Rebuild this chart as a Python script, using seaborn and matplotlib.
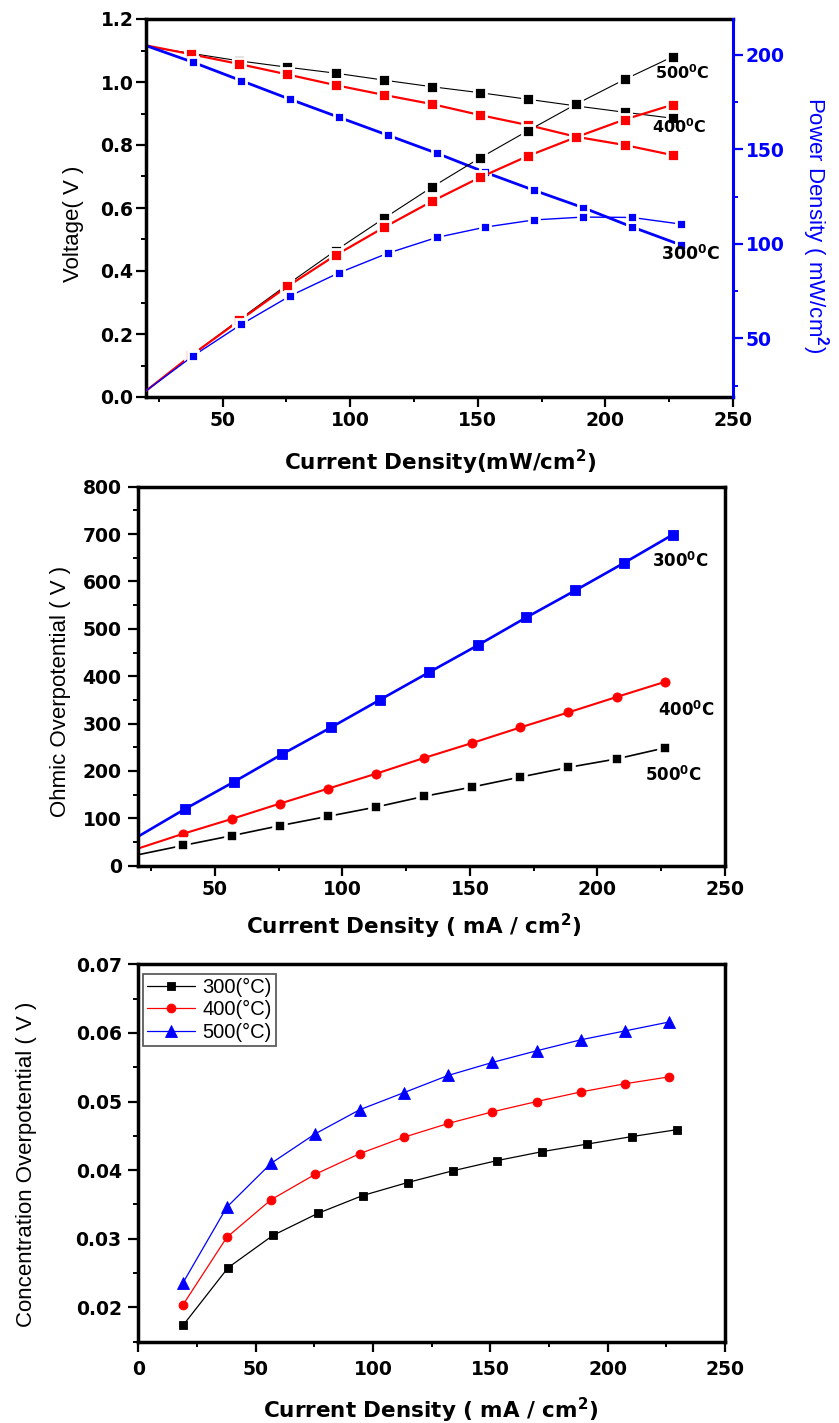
import matplotlib
matplotlib.use("Agg")
import matplotlib.pyplot as plt
from matplotlib.ticker import MultipleLocator, FixedLocator
import seaborn as sns

# Current density (mA/cm^2) at which each temperature was sampled
current_300 = [19.1, 38.3, 57.4, 76.5, 95.6, 114.8, 133.9, 153.0, 172.1, 191.3, 210.4, 229.5]
current_400 = [18.9, 37.7, 56.6, 75.4, 94.3, 113.2, 132.0, 150.9, 169.8, 188.6, 207.5, 226.3]
current_500 = [18.9, 37.7, 56.6, 75.4, 94.3, 113.2, 132.0, 150.9, 169.8, 188.6, 207.5, 226.3]

# Polarization: cell voltage (V)
voltage_300 = [1.118, 1.063, 1.004, 0.945, 0.888, 0.831, 0.774, 0.713, 0.656, 0.601, 0.540, 0.483]
voltage_400 = [1.118, 1.088, 1.057, 1.024, 0.990, 0.959, 0.930, 0.895, 0.863, 0.826, 0.800, 0.768]
voltage_500 = [1.114, 1.091, 1.067, 1.047, 1.028, 1.006, 0.985, 0.966, 0.945, 0.924, 0.904, 0.885]

# Power density (mW/cm^2)
power_300 = [21.4, 40.6, 57.5, 72.5, 84.7, 95.1, 103.4, 108.9, 112.7, 114.2, 114.0, 110.5]
power_400 = [21.1, 41.0, 59.5, 77.5, 94.0, 108.7, 122.5, 135.2, 146.6, 156.5, 165.8, 173.6]
power_500 = [21.0, 40.8, 60.0, 78.5, 96.5, 113.5, 130.0, 145.5, 160.0, 174.0, 187.0, 199.0]

# Ohmic overpotential
ohmic_300 = [59.0, 119.7, 176.7, 235.8, 292.0, 350.4, 408.0, 465.0, 524.0, 581.0, 639.0, 698.7]
ohmic_400 = [34.5, 67.6, 98.6, 130.9, 162.5, 194.2, 227.4, 259.0, 291.9, 323.6, 356.1, 387.8]
ohmic_500 = [22.0, 42.9, 63.3, 84.4, 104.1, 123.8, 146.3, 166.1, 187.2, 207.5, 225.4, 248.5]

# Concentration overpotential (V)
conc_300 = [0.0174, 0.0258, 0.0305, 0.0337, 0.0363, 0.0382, 0.0399, 0.0414, 0.0427, 0.0438, 0.0449, 0.0459]
conc_400 = [0.0203, 0.0302, 0.0357, 0.0394, 0.0424, 0.0448, 0.0468, 0.0485, 0.0500, 0.0514, 0.0526, 0.0536]
conc_500 = [0.0235, 0.0346, 0.0410, 0.0453, 0.0488, 0.0513, 0.0538, 0.0557, 0.0574, 0.0590, 0.0603, 0.0616]

temp_labels = ["300", "400", "500"]
legend_labels = ["300(°C)", "400(°C)", "500(°C)"]

BLUE, RED, BLACK = "#0000ff", "#ff0000", "#000000"

sns.set_theme(style="ticks")
plt.rcParams.update({
    "font.family": ["DejaVu Sans"],
    "font.weight": "bold",
    "text.color": "black",
    "axes.labelcolor": "black",
    "mathtext.fontset": "custom",
    "mathtext.rm": "Liberation Sans",
    "mathtext.it": "Liberation Sans:italic",
    "mathtext.bf": "DejaVu Sans:bold",
    "axes.linewidth": 2.5,
    "axes.edgecolor": "black",
    "xtick.direction": "out",
    "ytick.direction": "out",
    "xtick.major.size": 7,
    "ytick.major.size": 7,
    "xtick.minor.size": 3.5,
    "ytick.minor.size": 3.5,
    "xtick.major.width": 1.6,
    "ytick.major.width": 1.6,
    "xtick.minor.width": 1.4,
    "ytick.minor.width": 1.4,
    "xtick.color": "black",
    "ytick.color": "black",
    "xtick.labelcolor": "black",
    "ytick.labelcolor": "black",
    "xtick.labelsize": 13.5,
    "ytick.labelsize": 13.5,
    "xtick.major.pad": 3,
    "ytick.major.pad": 2,
})

W, H = 839, 1423
fig = plt.figure(figsize=(W / 100, H / 100), dpi=100)


def box(left, top, right, bottom):
    return [left / W, 1 - bottom / H, (right - left) / W, (bottom - top) / H]


def curve(ax, x, y, color, lw, face, marker="s", gap=0.0, skip_first=False, label=None):
    kws = dict(color=color, linewidth=lw, marker=marker,
               markersize=face + gap, markerfacecolor=color,
               markeredgecolor="white" if gap > 0 else color,
               markeredgewidth=gap if gap > 0 else 0.6)
    if skip_first:
        kws["markevery"] = list(range(1, len(x)))
    if label is not None:
        kws["label"] = label
    sns.lineplot(x=x, y=y, ax=ax, sort=False, estimator=None,
                 errorbar=None, legend=False, **kws)


def style_ticks(ax):
    ax.tick_params(which="both", top=False, right=False)
    for lab in ax.get_xticklabels() + ax.get_yticklabels():
        lab.set_fontweight("bold")


def ylabel(ax, text, xc, yc, color="black", rotation=90):
    ax.set_ylabel(text, fontsize=16, fontweight="normal", family="Liberation Sans",
                  color=color, rotation=rotation, rotation_mode="default",
                  ha="center", va="center")
    ax.yaxis.set_label_coords(xc, yc)


def xlabel(ax, text, xc, yc):
    ax.set_xlabel(text, fontsize=15.5, fontweight="bold", color="black",
                  ha="center", va="center")
    ax.xaxis.set_label_coords(xc, yc)


def temp_tag(ax, x, y, t, size=12):
    ax.text(x, y, t + r"$^{\mathbf{0}}$C", fontsize=size, fontweight="bold",
            ha="left", va="center", color="black")


# ---- Panel 1: voltage and power density vs current density ----
ax1 = fig.add_axes(box(146, 19, 733, 397))
ax1r = ax1.twinx()

curve(ax1, current_500, voltage_500, BLACK, 0.8, 7.0, gap=2.0, skip_first=True)
curve(ax1, current_400, voltage_400, RED, 1.6, 7.0, gap=2.0, skip_first=True)
curve(ax1, current_300, voltage_300, BLUE, 2.0, 5.8, gap=2.0, skip_first=True)

curve(ax1r, current_500, power_500, BLACK, 0.8, 7.0, gap=2.0, skip_first=True)
curve(ax1r, current_400, power_400, RED, 1.6, 7.0, gap=2.0, skip_first=True)
curve(ax1r, current_300, power_300, BLUE, 1.0, 5.8, gap=2.0, skip_first=True)

ax1.set_xlim(20, 250)
ax1.set_ylim(0, 1.2)
ax1.xaxis.set_major_locator(MultipleLocator(50))
ax1.xaxis.set_minor_locator(MultipleLocator(25))
ax1.yaxis.set_major_locator(MultipleLocator(0.2))
ax1.yaxis.set_minor_locator(MultipleLocator(0.1))
ax1.spines["right"].set_visible(False)
style_ticks(ax1)

ax1r.set_ylim(19, 219)
ax1r.yaxis.set_major_locator(FixedLocator([50, 100, 150, 200]))
ax1r.yaxis.set_minor_locator(FixedLocator([25, 75, 125, 175]))
for s in ("left", "top", "bottom"):
    ax1r.spines[s].set_visible(False)
ax1r.spines["right"].set_color(BLUE)
ax1r.spines["right"].set_linewidth(2.2)
ax1r.tick_params(axis="y", which="both", colors=BLUE, labelcolor=BLUE, left=False, right=True)
for lab in ax1r.get_yticklabels():
    lab.set_fontweight("bold")

xlabel(ax1, r"Current Density(mW/cm$^{\mathbf{2}}$)", 0.501, -0.172)
ylabel(ax1, "Voltage( V )", -0.1235, 0.459)
ylabel(ax1r, r"Power Density ( mW/cm$^{\mathrm{2}}$)", 1.1405, 0.456, color=BLUE, rotation=270)

temp_tag(ax1, 219.6, 1.029, temp_labels[2], 11.5)
temp_tag(ax1, 218.4, 0.857, temp_labels[1], 11.5)
temp_tag(ax1, 221.6, 0.452, temp_labels[0], 12.5)

# ---- Panel 2: ohmic overpotential ----
ax2 = fig.add_axes(box(138.3, 486.7, 725, 865.7))
curve(ax2, current_300, ohmic_300, BLUE, 1.9, 6.6, skip_first=True)
curve(ax2, current_400, ohmic_400, RED, 1.5, 6.6, marker="o", skip_first=True)
curve(ax2, current_500, ohmic_500, BLACK, 1.2, 5.8, gap=2.6, skip_first=True)

ax2.set_xlim(20, 250)
ax2.set_ylim(0, 800)
ax2.xaxis.set_major_locator(MultipleLocator(50))
ax2.xaxis.set_minor_locator(MultipleLocator(25))
ax2.yaxis.set_major_locator(MultipleLocator(100))
ax2.yaxis.set_minor_locator(MultipleLocator(50))
ax2.tick_params(axis="y", pad=5)
style_ticks(ax2)
xlabel(ax2, r"Current Density ( mA / cm$^{\mathbf{2}}$)", 0.47, -0.159)
ylabel(ax2, "Ohmic Overpotential ( V )", -0.1318, 0.461)

temp_tag(ax2, 221.3, 641.7, temp_labels[0])
temp_tag(ax2, 223.7, 327.0, temp_labels[1])
temp_tag(ax2, 218.6, 190.0, temp_labels[2])

# ---- Panel 3: concentration overpotential ----
ax3 = fig.add_axes(box(138.3, 964.3, 725, 1341.7))
curve(ax3, current_300, conc_300, BLACK, 0.9, 6.0, label=legend_labels[0])
curve(ax3, current_400, conc_400, RED, 0.9, 6.4, marker="o", label=legend_labels[1])
curve(ax3, current_500, conc_500, BLUE, 0.9, 9.2, marker="^", label=legend_labels[2])

ax3.set_xlim(0, 250)
ax3.set_ylim(0.015, 0.07)
ax3.xaxis.set_major_locator(MultipleLocator(50))
ax3.xaxis.set_minor_locator(MultipleLocator(25))
ax3.yaxis.set_major_locator(MultipleLocator(0.01))
ax3.yaxis.set_minor_locator(MultipleLocator(0.005))
ax3.tick_params(axis="y", pad=5)
ax3.tick_params(axis="x", pad=6)
style_ticks(ax3)
xlabel(ax3, r"Current Density ( mA / cm$^{\mathbf{2}}$)", 0.499, -0.181)
ylabel(ax3, "Concentration Overpotential ( V )", -0.1906, 0.4695)

leg = ax3.legend(loc="upper left", bbox_to_anchor=(0.0075, 0.9735), borderaxespad=0,
                 frameon=True, fancybox=False, handlelength=2.4, handletextpad=0.35,
                 labelspacing=0.15, borderpad=0.2,
                 prop={"family": "Liberation Sans", "weight": "normal", "size": 14.5})
leg.get_frame().set_edgecolor("#333333")
leg.get_frame().set_linewidth(1.3)
for t in leg.get_texts():
    t.set_color("black")

fig.savefig("out.png", dpi=100)
